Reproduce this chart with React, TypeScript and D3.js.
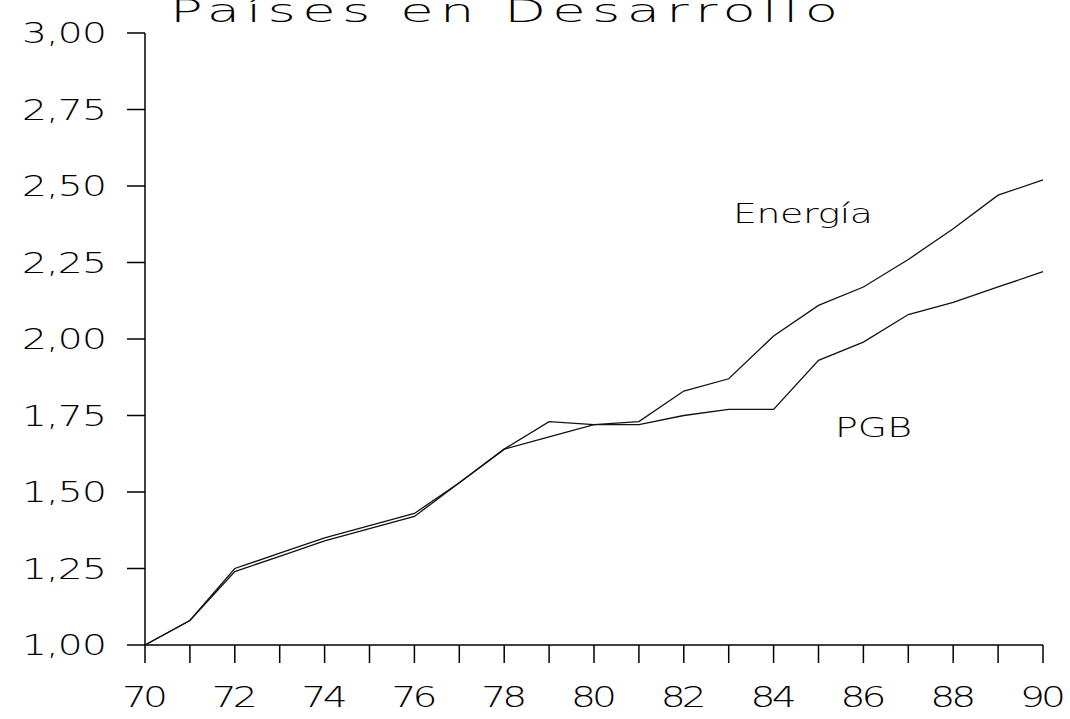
import React from "react";
import * as d3 from "d3";

// años 70..90
const years = d3.range(70, 91);
const energia = [1.0, 1.08, 1.25, 1.3, 1.35, 1.39, 1.43, 1.53, 1.64, 1.73, 1.72, 1.73, 1.83, 1.87, 2.01, 2.11, 2.17, 2.26, 2.36, 2.47, 2.52];
const pgb = [1.0, 1.08, 1.24, 1.29, 1.34, 1.38, 1.42, 1.53, 1.64, 1.68, 1.72, 1.72, 1.75, 1.77, 1.77, 1.93, 1.99, 2.08, 2.12, 2.17, 2.22];
const yTickValues = [1.0, 1.25, 1.5, 1.75, 2.0, 2.25, 2.5, 2.75, 3.0];
const xLabelYears = d3.range(70, 91, 2);

const FONT = "'DejaVu Sans', Verdana, sans-serif";

// text widened horizontally (stroke-font look), width pinned with textLength
function Wide(props: { x: number; y: number; w: number; size: number; sx?: number; anchor?: string; children: React.ReactNode }) {
  const { x, y, w, size, sx = 1.4, anchor = "start", children } = props;
  const left = anchor === "end" ? x - w : anchor === "middle" ? x - w / 2 : x;
  return (
    <text transform={`translate(${left},${y}) scale(${sx},1)`} fontFamily={FONT} fontWeight={200}
      fontSize={size} textLength={w / sx} lengthAdjust="spacing" fill="#000">
      {children}
    </text>
  );
}

export default function App() {
  const width = 1070, height = 719;
  const x = d3.scaleLinear().domain([70, 90]).range([145, 1043]);
  const y = d3.scaleLinear().domain([1, 3]).range([645, 33]);

  const line = d3.line<number>()
    .x((_, i) => x(years[i]))
    .y(d => y(d));

  const fmt = (v: number) => v.toFixed(2).replace(".", ",");

  return (
    <svg width={width} height={height} style={{ position: "absolute", left: 0, top: 0, background: "#fff" }}>
      <Wide x={170} y={22} w={668} size={32} sx={1.7}>Países en Desarrollo</Wide>

      {/* axes */}
      <line x1={x(70)} x2={x(70)} y1={y(3)} y2={y(1)} stroke="#000" strokeWidth={1.5} />
      <line x1={x(70)} x2={x(90)} y1={y(1)} y2={y(1)} stroke="#000" strokeWidth={1.5} />

      {yTickValues.map(v => (
        <g key={v}>
          <line x1={127} x2={x(70)} y1={y(v)} y2={y(v)} stroke="#000" strokeWidth={1.5} />
          <Wide x={107} y={y(v) + 10} w={85} size={28} anchor="end">{fmt(v)}</Wide>
        </g>
      ))}

      {years.map(yr => (
        <line key={yr} x1={x(yr)} x2={x(yr)} y1={y(1)} y2={y(1) + 18} stroke="#000" strokeWidth={1.5} />
      ))}
      {xLabelYears.map(yr => (
        <Wide key={yr} x={x(yr)} y={707} w={46} size={28} anchor="middle">{yr}</Wide>
      ))}

      <path d={line(energia) || ""} fill="none" stroke="#111" strokeWidth={1.3} />
      <path d={line(pgb) || ""} fill="none" stroke="#111" strokeWidth={1.3} />

      <Wide x={733} y={223} w={140} size={27}>Energía</Wide>
      <Wide x={835} y={437} w={77} size={27}>PGB</Wide>
    </svg>
  );
}
